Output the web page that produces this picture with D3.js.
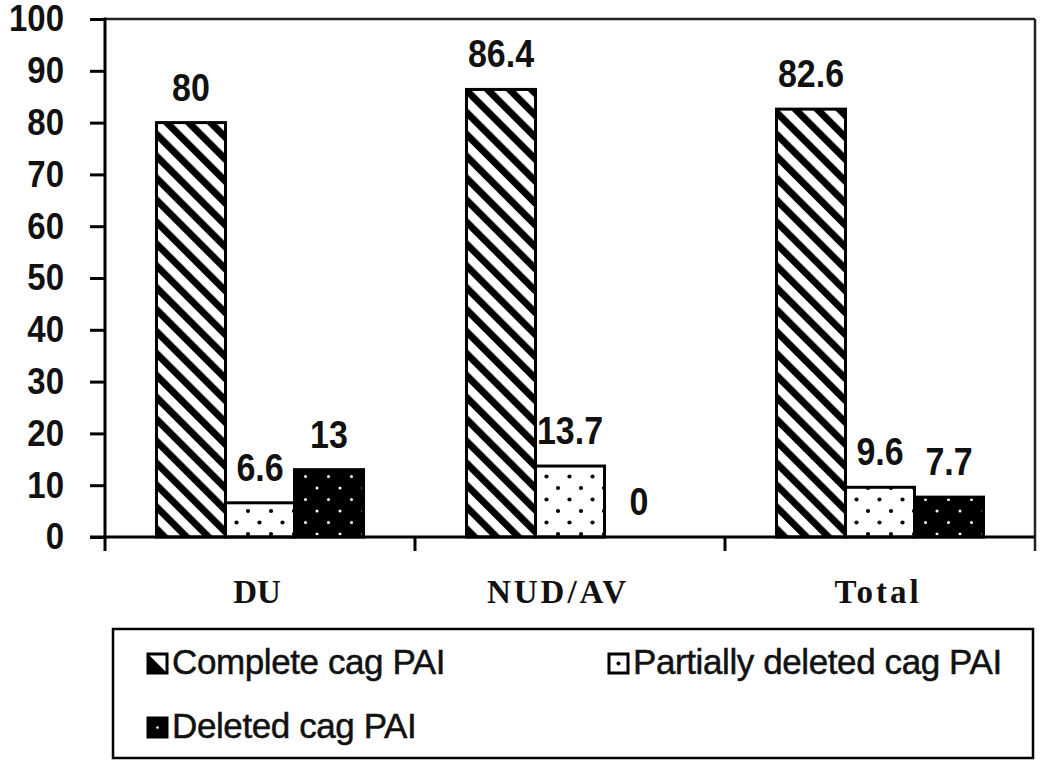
<!DOCTYPE html>
<html>
<head>
<meta charset="utf-8">
<script src="https://cdn.jsdelivr.net/npm/d3@7"></script>
<style>
  body { margin: 0; background: #fff; }
  svg { display: block; }
</style>
</head>
<body>
<svg id="chart" width="1050" height="773"></svg>
<script>
// chart data
const categories = ["DU", "NUD/AV", "Total"];
const seriesNames = ["Complete cag PAI", "Partially deleted cag PAI", "Deleted cag PAI"];
const complete = [80, 86.4, 82.6];
const partial = [6.6, 13.7, 9.6];
const deleted = [13, 0, 7.7];
const yTicks = [0, 10, 20, 30, 40, 50, 60, 70, 80, 90, 100];

const values = [complete, partial, deleted];
const fills = ["url(#hatch)", "url(#dotsLight)", "url(#dotsDark)"];

const width = 1050, height = 773;
const plot = { left: 105, right: 1035, top: 19, bottom: 537 };

const svg = d3.select("#chart");

// patterns
const defs = svg.append("defs");

const hatch = defs.append("pattern")
  .attr("id", "hatch")
  .attr("patternUnits", "userSpaceOnUse")
  .attr("width", 15.5)
  .attr("height", 15.5)
  .attr("patternTransform", "rotate(-45)");
hatch.append("rect").attr("width", 15.5).attr("height", 15.5).attr("fill", "#fff");
hatch.append("rect").attr("width", 7).attr("height", 15.5).attr("fill", "#000");

const dotsLight = defs.append("pattern")
  .attr("id", "dotsLight")
  .attr("patternUnits", "userSpaceOnUse")
  .attr("width", 23)
  .attr("height", 23);
dotsLight.append("rect").attr("width", 23).attr("height", 23).attr("fill", "#fff");
[[5, 5], [16.5, 16.5]].forEach(([cx, cy]) => {
  dotsLight.append("circle").attr("cx", cx).attr("cy", cy).attr("r", 2.1).attr("fill", "#000");
});

const dotsDark = defs.append("pattern")
  .attr("id", "dotsDark")
  .attr("patternUnits", "userSpaceOnUse")
  .attr("width", 23)
  .attr("height", 23);
dotsDark.append("rect").attr("width", 23).attr("height", 23).attr("fill", "#000");
[[5, 5], [16.5, 16.5]].forEach(([cx, cy]) => {
  dotsDark.append("circle").attr("cx", cx).attr("cy", cy).attr("r", 1.5).attr("fill", "#fff");
});

// scales
const x0 = d3.scaleBand()
  .domain(categories)
  .range([plot.left, plot.right])
  .padding(0);

const x1 = d3.scaleBand()
  .domain(d3.range(seriesNames.length))
  .range([0, x0.bandwidth()])
  .paddingInner(0)
  .paddingOuter(0.746);

const y = d3.scaleLinear()
  .domain([0, 100])
  .range([plot.bottom, plot.top]);

// frame: top and right lines
svg.append("line")
  .attr("x1", plot.left).attr("x2", plot.right)
  .attr("y1", y(100)).attr("y2", y(100))
  .attr("stroke", "#222").attr("stroke-width", 2.5);
svg.append("line")
  .attr("x1", plot.right).attr("x2", plot.right)
  .attr("y1", y(100)).attr("y2", plot.bottom + 14)
  .attr("stroke", "#222").attr("stroke-width", 2.5);

// bars
const groups = svg.append("g")
  .selectAll("g")
  .data(categories)
  .join("g")
  .attr("transform", d => `translate(${x0(d)},0)`);

groups.selectAll("rect")
  .data((d, ci) => values.map((s, si) => ({ si, v: s[ci] })))
  .join("rect")
  .filter(d => d.v > 0)
  .attr("x", d => x1(d.si))
  .attr("width", x1.bandwidth())
  .attr("y", d => y(d.v))
  .attr("height", d => y(0) - y(d.v))
  .attr("fill", d => fills[d.si])
  .attr("stroke", "#000")
  .attr("stroke-width", 3);

// value labels
groups.selectAll("text")
  .data((d, ci) => values.map((s, si) => ({ si, v: s[ci] })))
  .join("text")
  .attr("transform", d => `translate(${x1(d.si) + x1.bandwidth() / 2},${y(d.v) - 22}) scale(1,1.15)`)
  .attr("text-anchor", "middle")
  .attr("font-family", "Liberation Sans, Arial, sans-serif")
  .attr("font-weight", "bold")
  .attr("font-size", 34)
  .attr("fill", "#111")
  .text(d => d.v);

// y axis
const yAxis = svg.append("g")
  .attr("transform", `translate(${plot.left},0)`)
  .call(d3.axisLeft(y).tickValues(yTicks).tickSize(15).tickPadding(26).tickSizeOuter(0));
yAxis.select(".domain").remove();
yAxis.selectAll(".tick line").attr("stroke", "#000").attr("stroke-width", 3);
yAxis.selectAll(".tick text")
  .attr("font-family", "Liberation Sans, Arial, sans-serif")
  .attr("font-weight", "bold")
  .attr("font-size", 33)
  .attr("fill", "#111")
  .attr("transform", "scale(1,1.1)")
  .attr("dy", "0.33em");
svg.append("line")
  .attr("x1", plot.left).attr("x2", plot.left)
  .attr("y1", y(100) - 1.5).attr("y2", plot.bottom + 14)
  .attr("stroke", "#000").attr("stroke-width", 3);

// x axis
svg.append("line")
  .attr("x1", plot.left - 15).attr("x2", plot.right)
  .attr("y1", plot.bottom).attr("y2", plot.bottom)
  .attr("stroke", "#000").attr("stroke-width", 3);

const bounds = categories.slice(1).map(c => x0(c));
svg.append("g")
  .selectAll("line")
  .data(bounds)
  .join("line")
  .attr("x1", d => d).attr("x2", d => d)
  .attr("y1", plot.bottom).attr("y2", plot.bottom + 14)
  .attr("stroke", "#000").attr("stroke-width", 3);

// category labels sit slightly off-centre in the original
const labelShift = { "DU": -3, "NUD/AV": -12, "Total": -2 };
const labelSpacing = { "DU": 0, "NUD/AV": 3, "Total": 3 };
svg.append("g")
  .selectAll("text")
  .data(categories)
  .join("text")
  .attr("x", d => x0(d) + x0.bandwidth() / 2 + labelShift[d])
  .attr("y", 603)
  .attr("text-anchor", "middle")
  .attr("font-family", "Liberation Serif, Times New Roman, serif")
  .attr("font-weight", "bold")
  .attr("font-size", 33)
  .attr("letter-spacing", d => labelSpacing[d])
  .attr("fill", "#111")
  .text(d => d);

// legend
const legend = svg.append("g");
legend.append("rect")
  .attr("x", 113).attr("y", 629)
  .attr("width", 920).attr("height", 129)
  .attr("fill", "#fff")
  .attr("stroke", "#000")
  .attr("stroke-width", 2.5);

const legendPos = [[147, 674], [608, 674], [147, 738]];
const items = legend.selectAll("g.item")
  .data(seriesNames)
  .join("g")
  .attr("class", "item")
  .attr("transform", (d, i) => `translate(${legendPos[i][0]},${legendPos[i][1]})`);

const m = 19;
items.each(function (d, i) {
  const g = d3.select(this);
  const top = -m - 1;
  if (i === 0) {
    g.append("rect").attr("x", 1).attr("y", top).attr("width", m).attr("height", m)
      .attr("fill", "#fff").attr("stroke", "#000").attr("stroke-width", 3);
    g.append("path")
      .attr("d", `M1,${top} L1,${top + m} L${1 + m},${top + m} Z`)
      .attr("fill", "#000");
  } else if (i === 1) {
    g.append("rect").attr("x", 1).attr("y", top).attr("width", m).attr("height", m)
      .attr("fill", "#fff").attr("stroke", "#000").attr("stroke-width", 3);
    g.append("circle").attr("cx", 1 + m / 2).attr("cy", top + m / 2).attr("r", 2).attr("fill", "#000");
  } else {
    g.append("rect").attr("x", 1).attr("y", top).attr("width", m).attr("height", m)
      .attr("fill", "#000").attr("stroke", "#000").attr("stroke-width", 3);
    g.append("circle").attr("cx", 1 + m / 2).attr("cy", top + m / 2).attr("r", 1.3).attr("fill", "#fff");
  }
  g.append("text")
    .attr("x", 25)
    .attr("y", 0)
    .attr("font-family", "Liberation Sans, Arial, sans-serif")
    .attr("font-size", 35)
    .attr("letter-spacing", -0.4)
    .attr("fill", "#111")
    .attr("stroke", "#111")
    .attr("stroke-width", 0.5)
    .text(d);
});
</script>
</body>
</html>
